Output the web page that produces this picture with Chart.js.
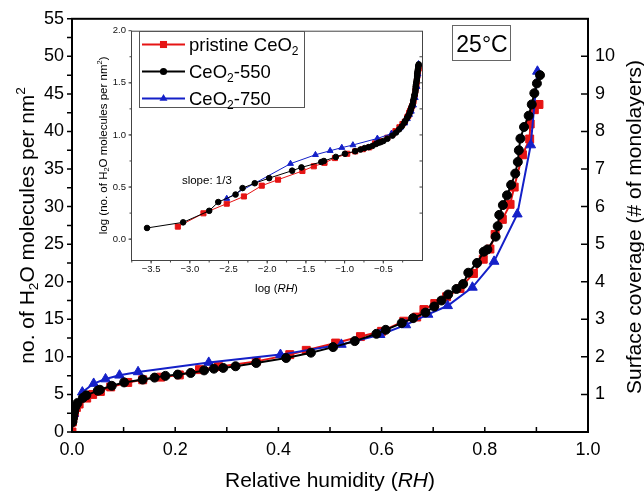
<!DOCTYPE html>
<html>
<head>
<meta charset="utf-8">
<script src="https://cdn.jsdelivr.net/npm/chart.js@4.4.1/dist/chart.umd.min.js"></script>
<style>
    html, body { margin: 0; padding: 0; background: #fff; }
    #wrap { position: relative; width: 644px; height: 491px; }
    #main { position: absolute; left: 0; top: 0; }
    #inset { position: absolute; left: 92px; top: 20px; }
</style>
</head>
<body>
<div id="wrap">
    <canvas id="main" width="644" height="491"></canvas>
    <canvas id="inset" width="336" height="280"></canvas>
</div>
<script>
// relative humidity (x) and adsorbed water in molecules per nm2 (y)
const pristineRH = [0, 0.0007, 0.0015, 0.003, 0.005, 0.0085, 0.0138, 0.0285, 0.040, 0.055, 0.075, 0.108, 0.137, 0.172, 0.208, 0.247, 0.284, 0.357, 0.422, 0.454, 0.511, 0.559, 0.600, 0.643, 0.668, 0.682, 0.703, 0.726, 0.752, 0.778, 0.797, 0.810, 0.820, 0.834, 0.849, 0.857, 0.873, 0.887, 0.888, 0.896, 0.905];
const pristineN = [0, 1.32, 1.77, 2.19, 2.57, 3.26, 3.72, 4.51, 5.00, 5.40, 6.00, 6.60, 6.95, 7.30, 7.60, 8.30, 8.70, 9.40, 10.30, 10.87, 11.84, 12.70, 13.40, 14.75, 15.30, 16.30, 17.10, 18.00, 19.10, 21.10, 23.00, 24.35, 26.30, 28.30, 30.30, 32.60, 36.90, 39.00, 41.00, 42.90, 43.60];

const ceo550RH = [0.00028, 0.00082, 0.00178, 0.00233, 0.0039, 0.0048, 0.0069, 0.0106, 0.021, 0.0277, 0.050, 0.054, 0.077, 0.101, 0.137, 0.160, 0.181, 0.205, 0.230, 0.256, 0.275, 0.293, 0.317, 0.357, 0.415, 0.463, 0.506, 0.548, 0.590, 0.608, 0.639, 0.661, 0.685, 0.702, 0.716, 0.729, 0.745, 0.758, 0.768, 0.785, 0.798, 0.805, 0.821, 0.825, 0.828, 0.835, 0.843, 0.851, 0.859, 0.864, 0.866, 0.869, 0.876, 0.885, 0.891, 0.896, 0.901, 0.907];
const ceo550N = [1.28, 1.45, 1.87, 2.27, 2.68, 3.09, 3.44, 3.85, 4.54, 4.88, 5.50, 5.62, 6.15, 6.60, 6.98, 7.24, 7.47, 7.64, 7.86, 8.20, 8.43, 8.53, 8.75, 9.19, 9.85, 10.56, 11.30, 12.10, 13.07, 13.60, 14.50, 15.15, 15.90, 16.70, 17.50, 18.30, 19.04, 19.70, 21.20, 22.50, 24.00, 24.30, 26.00, 27.40, 28.90, 30.20, 31.50, 32.90, 34.40, 35.95, 37.50, 39.06, 40.60, 42.10, 43.60, 45.10, 46.40, 47.50];

const ceo750RH = [0.003, 0.020, 0.042, 0.065, 0.092, 0.128, 0.265, 0.404, 0.522, 0.597, 0.647, 0.690, 0.728, 0.776, 0.818, 0.863, 0.889, 0.902];
const ceo750N = [2.45, 5.30, 6.45, 7.05, 7.55, 8.00, 9.25, 10.30, 11.65, 12.95, 14.25, 15.65, 16.80, 19.25, 22.70, 29.00, 38.20, 48.00];

const seriesNames = ["pristine CeO\u2082", "CeO\u2082-550", "CeO\u2082-750"];
const seriesLabels = [
    [["pristine CeO", ""], ["2", "sub"]],
    [["CeO", ""], ["2", "sub"], ["-550", ""]],
    [["CeO", ""], ["2", "sub"], ["-750", ""]]
];

const xTicks = [0, 0.2, 0.4, 0.6, 0.8, 1.0];
const yTicks = [0, 5, 10, 15, 20, 25, 30, 35, 40, 45, 50, 55];
const coverageTicks = [1, 2, 3, 4, 5, 6, 7, 8, 9, 10];
const insetXTicks = [-3.5, -3.0, -2.5, -2.0, -1.5, -1.0, -0.5];
const insetYTicks = [0, 0.5, 1.0, 1.5, 2.0];

const MOLECULES_PER_MONOLAYER = 5;

const FONT = "\"Liberation Sans\", Arial, Helvetica, sans-serif";
const RED = "#e61414";
const BLUE = "#1420c8";

const seriesStyle = [
    { color: RED, pointStyle: "rect", main: 5.6, inset: 3.6, legend: 5, order: 3 },
    { color: "#000", pointStyle: "circle", main: 4.5, inset: 2.8, legend: 3.6, order: 1 },
    { color: BLUE, pointStyle: "triangle", main: 5.6, inset: 3.4, legend: 4.6, order: 2 }
];

Chart.defaults.color = "#000";
Chart.defaults.font.family = FONT;

function xy(rh, n) {
    return rh.map((r, i) => ({ x: r, y: n[i] }));
}

// the inset is the log-log view of the same isotherms
function logXY(rh, n) {
    return rh
        .map((r, i) => ({ x: Math.log10(r), y: Math.log10(n[i]) }))
        .filter(p => isFinite(p.x) && isFinite(p.y));
}

function steps(from, to, step) {
    const out = [];
    for (let v = from; v <= to + 1e-9; v += step) {
        out.push(Math.round(v * 1000) / 1000);
    }
    return out;
}

function makeDataset(i, data, radius, width) {
    const s = seriesStyle[i];
    return {
        label: seriesNames[i],
        data,
        order: s.order,
        showLine: true,
        tension: 0,
        borderColor: s.color,
        backgroundColor: s.color,
        borderWidth: width,
        pointStyle: s.pointStyle,
        pointRadius: radius,
        pointHoverRadius: radius,
        pointBorderWidth: 1,
        pointBorderColor: s.color,
        pointBackgroundColor: s.color
    };
}

// text with sub/superscripts and italics: parts = [[text, kind], ...]
function drawRich(ctx, parts, x, y, size, opts) {
    opts = opts || {};
    const fontFor = p => {
        const small = p[1] === "sub" || p[1] === "sup";
        return (p[1] === "i" ? "italic " : "") + (small ? size * 0.65 : size) + "px " + FONT;
    };
    ctx.save();
    ctx.translate(x, y);
    if (opts.rotate) {
        ctx.rotate(opts.rotate);
    }
    let total = 0;
    parts.forEach(p => {
        ctx.font = fontFor(p);
        total += ctx.measureText(p[0]).width;
    });
    let cx = opts.align === "left" ? 0 : -total / 2;
    ctx.textAlign = "left";
    ctx.textBaseline = "alphabetic";
    ctx.fillStyle = opts.color || "#000";
    parts.forEach(p => {
        ctx.font = fontFor(p);
        const dy = p[1] === "sub" ? size * 0.2 : p[1] === "sup" ? -size * 0.4 : 0;
        ctx.fillText(p[0], cx, dy);
        cx += ctx.measureText(p[0]).width;
    });
    ctx.restore();
}

function tickMarks(ctx, scale, values, edge, dir, len) {
    ctx.beginPath();
    values.forEach(v => {
        const p = scale.getPixelForValue(v);
        if (scale.isHorizontal()) {
            ctx.moveTo(p, edge);
            ctx.lineTo(p, edge + dir * len);
        } else {
            ctx.moveTo(edge, p);
            ctx.lineTo(edge + dir * len, p);
        }
    });
    ctx.stroke();
}

function marker(ctx, style, x, y, r, color) {
    ctx.fillStyle = color;
    ctx.beginPath();
    if (style === "rect") {
        const h = r * Math.SQRT1_2;
        ctx.rect(x - h, y - h, 2 * h, 2 * h);
    } else if (style === "triangle") {
        ctx.moveTo(x, y - r);
        ctx.lineTo(x + r * 0.866, y + r / 2);
        ctx.lineTo(x - r * 0.866, y + r / 2);
        ctx.closePath();
    } else {
        ctx.arc(x, y, r, 0, Math.PI * 2);
    }
    ctx.fill();
}

const minus = v => (v < 0 ? "\u2212" + Math.abs(v).toFixed(1) : v.toFixed(1));

const mainDecor = {
    id: "mainDecor",
    afterDatasetsDraw(chart) {
        const { ctx, chartArea: a, scales } = chart;
        ctx.save();
        ctx.strokeStyle = "#000";
        ctx.lineWidth = 2;
        ctx.strokeRect(a.left, a.top, a.right - a.left, a.bottom - a.top);

        ctx.lineWidth = 1.5;
        tickMarks(ctx, scales.y, steps(0, 55, 2.5), a.left, -1, 5);
        tickMarks(ctx, scales.x, steps(0, 1, 0.1), a.bottom, -1, 5);
        tickMarks(ctx, scales.y1, coverageTicks, a.right, -1, 7);

        // temperature label
        ctx.strokeStyle = "#666";
        ctx.lineWidth = 1;
        ctx.strokeRect(452.5, 25.5, 58, 35);
        drawRich(ctx, [["25\u00b0C", ""]], 482, 51.5, 23);

        drawRich(ctx, [["no. of H", ""], ["2", "sub"], ["O molecules per nm", ""], ["2", "sup"]],
            33.5, (a.top + a.bottom) / 2, 21, { rotate: -Math.PI / 2 });
        drawRich(ctx, [["Surface coverage (# of monolayers)", ""]],
            641, 227, 21, { rotate: -Math.PI / 2 });
        drawRich(ctx, [["Relative humidity (", ""], ["RH", "i"], [")", ""]],
            (a.left + a.right) / 2, 487, 21);
        ctx.restore();
    }
};

const insetDecor = {
    id: "insetDecor",
    afterDatasetsDraw(chart) {
        const { ctx, chartArea: a, scales } = chart;
        ctx.save();
        ctx.strokeStyle = "#444";
        ctx.lineWidth = 1;
        ctx.strokeRect(a.left + 0.5, a.top + 0.5, a.right - a.left, a.bottom - a.top);
        tickMarks(ctx, scales.x, insetXTicks, a.bottom + 0.5, 1, 3);
        tickMarks(ctx, scales.x, steps(-3.75, -0.25, 0.25), a.bottom + 0.5, 1, 2);
        tickMarks(ctx, scales.y, insetYTicks, a.left + 0.5, -1, 3);
        tickMarks(ctx, scales.y, steps(0, 1.75, 0.25), a.left + 0.5, -1, 2);
        tickMarks(ctx, scales.y, steps(0.25, 1.75, 0.25), a.right + 0.5, -1, 3);

        // legend
        ctx.fillStyle = "#fff";
        ctx.fillRect(47, 11, 165, 76);
        ctx.strokeStyle = "#555";
        ctx.strokeRect(47.5, 11.5, 165, 76);
        seriesLabels.forEach((parts, i) => {
            const s = seriesStyle[i];
            const y = 24.5 + i * 27;
            ctx.strokeStyle = s.color;
            ctx.lineWidth = 2;
            ctx.beginPath();
            ctx.moveTo(50, y);
            ctx.lineTo(93, y);
            ctx.stroke();
            marker(ctx, s.pointStyle, 71.5, y, s.legend, s.color);
            drawRich(ctx, parts, 97, y + 6.5, 18.5, { align: "left" });
        });

        const sx = scales.x.getPixelForValue(-2.78);
        const sy = scales.y.getPixelForValue(0.572);
        drawRich(ctx, [["slope: 1/3", ""]], sx, sy + 4, 11.5);

        drawRich(ctx, [["log (", ""], ["RH", "i"], [")", ""]], (a.left + a.right) / 2, 272, 11.5);
        drawRich(ctx, [["log (no. of H", ""], ["2", "sub"], ["O molecules per nm", ""], ["2", "sup"], [")", ""]],
            15, (a.top + a.bottom) / 2, 11.5, { rotate: -Math.PI / 2 });
        ctx.restore();
    }
};

const quiet = { legend: { display: false }, tooltip: { enabled: false } };
const noGrid = { display: false, drawTicks: false };

new Chart(document.getElementById("main"), {
    type: "scatter",
    data: {
        datasets: [
            makeDataset(0, xy(pristineRH, pristineN), seriesStyle[0].main, 2),
            makeDataset(1, xy(ceo550RH, ceo550N), seriesStyle[1].main, 2),
            makeDataset(2, xy(ceo750RH, ceo750N), seriesStyle[2].main, 2)
        ]
    },
    options: {
        responsive: false,
        animation: false,
        events: [],
        layout: { padding: { top: 17, left: 0, right: 0, bottom: 0 } },
        plugins: quiet,
        scales: {
            x: {
                type: "linear",
                position: "bottom",
                min: 0,
                max: 1,
                afterBuildTicks: s => { s.ticks = xTicks.map(v => ({ value: v })); },
                afterFit: s => { s.height = 59; },
                grid: noGrid,
                border: { display: false },
                ticks: { font: { size: 18 }, padding: 7, maxRotation: 0, autoSkip: false, callback: v => v.toFixed(1) }
            },
            y: {
                type: "linear",
                position: "left",
                min: 0,
                max: 55,
                afterBuildTicks: s => { s.ticks = yTicks.map(v => ({ value: v })); },
                afterFit: s => { s.width = 72; },
                grid: noGrid,
                border: { display: false },
                ticks: { font: { size: 18 }, padding: 8, autoSkip: false }
            },
            y1: {
                type: "linear",
                position: "right",
                min: 0,
                max: 55 / MOLECULES_PER_MONOLAYER,
                afterBuildTicks: s => { s.ticks = coverageTicks.map(v => ({ value: v })); },
                afterFit: s => { s.width = 56; },
                grid: noGrid,
                border: { display: false },
                ticks: { font: { size: 18 }, padding: 7, autoSkip: false }
            }
        }
    },
    plugins: [mainDecor]
});

new Chart(document.getElementById("inset"), {
    type: "scatter",
    data: {
        datasets: [
            makeDataset(0, logXY(pristineRH, pristineN), seriesStyle[0].inset, 1),
            makeDataset(1, logXY(ceo550RH, ceo550N), seriesStyle[1].inset, 1),
            makeDataset(2, logXY(ceo750RH, ceo750N), seriesStyle[2].inset, 1)
        ]
    },
    options: {
        responsive: false,
        animation: false,
        events: [],
        layout: { padding: { top: 6, left: 0, right: 6, bottom: 0 } },
        plugins: quiet,
        scales: {
            x: {
                type: "linear",
                min: -3.76,
                max: 0,
                afterBuildTicks: s => { s.ticks = insetXTicks.map(v => ({ value: v })); },
                afterFit: s => { s.height = 40; },
                grid: noGrid,
                border: { display: false },
                ticks: { font: { size: 9.5 }, color: "#111", padding: 4, maxRotation: 0, autoSkip: false, callback: minus }
            },
            y: {
                type: "linear",
                min: -0.2,
                max: 2.0,
                afterBuildTicks: s => { s.ticks = insetYTicks.map(v => ({ value: v })); },
                afterFit: s => { s.width = 39; },
                grid: noGrid,
                border: { display: false },
                ticks: { font: { size: 9.5 }, color: "#111", padding: 5, autoSkip: false, callback: v => v.toFixed(1) }
            }
        }
    },
    plugins: [insetDecor]
});
</script>
</body>
</html>
